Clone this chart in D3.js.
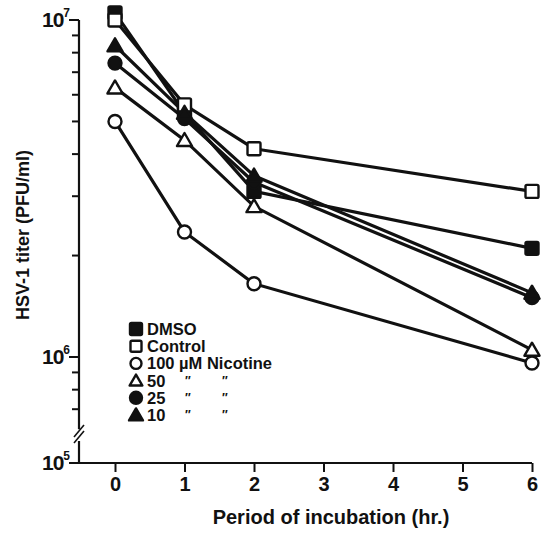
<!DOCTYPE html>
<html lang="en">
<head>
  <meta charset="UTF-8">
  <title>HSV-1 titer</title>
  <script src="https://cdn.jsdelivr.net/npm/d3@7/dist/d3.min.js"></script>
  <style>
    body{ margin:0; background:#fff; }
    svg text{ font-family: "Liberation Sans", Arial, sans-serif; font-weight: bold; fill:#111; }
  </style>
</head>
<body>
<div class="chart"></div>
<script>
// values
const hours = [0, 1, 2, 6];
const xTicks = [0, 1, 2, 3, 4, 5, 6];
const dmso    = [1.05e7, 5.3e6, 3.1e6, 2.1e6];
const control = [1.0e7, 5.6e6, 4.15e6, 3.1e6];
const nic100  = [5.0e6, 2.35e6, 1.65e6, 9.6e5];
const nic50   = [6.3e6, 4.4e6, 2.8e6, 1.05e6];
const nic25   = [7.45e6, 5.1e6, 3.3e6, 1.5e6];
const nic10   = [8.4e6, 5.3e6, 3.45e6, 1.55e6];
const seriesNames = ['DMSO', 'Control', '100 \u00b5M Nicotine', '50', '25', '10'];
const seriesShapes = ['square', 'square', 'circle', 'triangle', 'circle', 'triangle'];
const seriesFilled = [true, false, false, false, true, true];
const majorTicks = [1e6, 1e7];
const minorTicks = [7e5, 8e5, 9e5, 2e6, 3e6, 4e6, 5e6, 6e6, 7e6, 8e6, 9e6];

const series = [dmso, control, nic100, nic50, nic25, nic10].map((vals, i) => ({
  name: seriesNames[i], shape: seriesShapes[i], filled: seriesFilled[i],
  points: vals.map((v, j) => ({ t: hours[j], v: v }))
}));

const W = 551, H = 533;
const svg = d3.select('.chart').append('svg').attr('width', W).attr('height', H);

const x = d3.scaleLinear().domain([0, 6]).range([115, 532]);
const y = d3.scaleLog().domain([1e6, 1e7]).range([357, 20]);
const axisX = 79, baseY = 463;   // 10^5 sits on the x axis, below the break

function marker(sel, shape, filled, s) {
  let m;
  if (shape === 'square') m = sel.append('rect').attr('x', -s / 2).attr('y', -s / 2).attr('width', s).attr('height', s).attr('rx', 1.5);
  else if (shape === 'circle') m = sel.append('circle').attr('r', s / 2);
  else m = sel.append('path').attr('d', `M0,${-s * 0.55}L${s * 0.58},${s * 0.45}L${-s * 0.58},${s * 0.45}Z`);
  m.attr('fill', filled ? '#111' : '#fff').attr('stroke', '#111').attr('stroke-width', 2.4).attr('stroke-linejoin', 'round');
}

// lines
const line = d3.line().x(d => x(d.t)).y(d => y(d.v));
const g = svg.append('g');
series.forEach(s => {
  g.append('path').attr('d', line(s.points)).attr('fill', 'none').attr('stroke', '#111').attr('stroke-width', 3.2);
});
series.forEach(s => {
  s.points.forEach(p => {
    const m = g.append('g').attr('transform', `translate(${x(p.t)},${y(p.v)})`);
    marker(m, s.shape, s.filled, 13);
  });
});

// y axis
const ya = svg.append('g').attr('stroke', '#111');
ya.append('line').attr('x1', axisX).attr('x2', axisX).attr('y1', y(1e7)).attr('y2', y(6.1e5)).attr('stroke-width', 2.2);
ya.append('line').attr('x1', axisX).attr('x2', axisX).attr('y1', 441).attr('y2', baseY).attr('stroke-width', 2.2);
ya.append('line').attr('x1', 74).attr('x2', 84).attr('y1', 437).attr('y2', 425).attr('stroke-width', 1.6);
ya.append('line').attr('x1', 74).attr('x2', 84).attr('y1', 443).attr('y2', 431).attr('stroke-width', 1.6);
ya.selectAll('.minor').data(minorTicks).join('line')
  .attr('x1', axisX - 7).attr('x2', axisX).attr('y1', d => y(d)).attr('y2', d => y(d)).attr('stroke-width', 2);
ya.selectAll('.major').data(majorTicks).join('line')
  .attr('x1', axisX - 10).attr('x2', axisX).attr('y1', d => y(d)).attr('y2', d => y(d)).attr('stroke-width', 2);
ya.append('line').attr('x1', axisX - 10).attr('x2', axisX).attr('y1', baseY).attr('y2', baseY).attr('stroke-width', 2);

const yLabels = majorTicks.map(d => ({ pos: y(d), exp: Math.round(Math.log10(d)) })).concat([{ pos: baseY, exp: 5 }]);
yLabels.forEach(l => {
  const t = svg.append('text').attr('x', 70).attr('y', l.pos + 7).attr('text-anchor', 'end').attr('font-size', 21);
  t.append('tspan').attr('letter-spacing', -1).text('10');
  t.append('tspan').attr('font-size', 12).attr('dy', -10).text(l.exp);
});

// x axis
const xa = svg.append('g').attr('transform', `translate(0,${baseY})`)
  .call(d3.axisBottom(x).tickValues(xTicks).tickSize(9).tickSizeOuter(0).tickFormat(d3.format('d')));
xa.select('.domain').remove();
xa.append('line').attr('x1', axisX).attr('x2', x(6)).attr('stroke', '#111').attr('stroke-width', 2.2);
xa.selectAll('.tick line').attr('stroke', '#111').attr('stroke-width', 2);
xa.selectAll('.tick text').attr('font-size', 20).attr('y', 14).attr('fill', '#111')
  .style('font-family', '"Liberation Sans", Arial, sans-serif').style('font-weight', 'bold');

svg.append('text').attr('x', 331).attr('y', 524).attr('text-anchor', 'middle').attr('font-size', 20)
  .text('Period of incubation (hr.)');
svg.append('text').attr('transform', 'translate(29,235) rotate(-90)').attr('text-anchor', 'middle').attr('font-size', 18)
  .text('HSV-1 titer (PFU/ml)');

// legend
const lg = svg.append('g').attr('transform', 'translate(136,329)');
series.forEach((s, i) => {
  const row = lg.append('g').attr('transform', `translate(0,${i * 17.2})`);
  marker(row, s.shape, s.filled, s.filled ? 12 : 11);
  row.append('text').attr('x', 11).attr('y', 6).attr('font-size', 16.5).text(s.name);
  if (i >= 3) {
    row.append('text').attr('x', 49).attr('y', 4).attr('font-size', 12).text('\u2033');
    row.append('text').attr('x', 86).attr('y', 4).attr('font-size', 12).text('\u2033');
  }
});
</script>
</body>
</html>
